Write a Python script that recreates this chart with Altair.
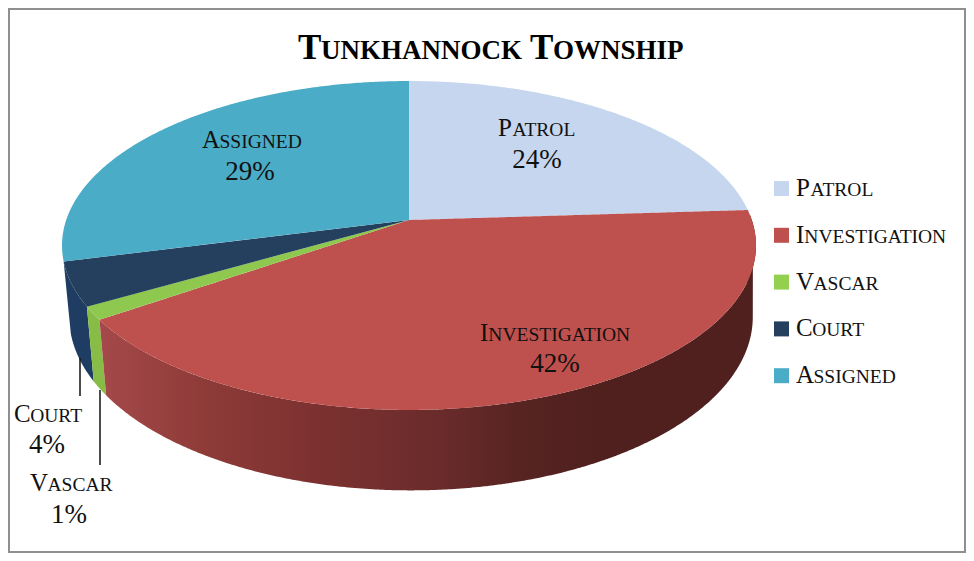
import math
import altair as alt
import pandas as pd

# ---- data
categories = ["Patrol", "Investigation", "Vascar", "Court", "Assigned"]
shares = [24.0, 41.4, 1.3, 4.3, 29.0]
percent_labels = ["24%", "42%", "1%", "4%", "29%"]
top_colors = ["#C6D6EE", "#BE504D", "#8EC84E", "#25405F", "#4AACC6"]
legend_colors = ["#C6D6EE", "#BE504D", "#93D04F", "#25405F", "#4AACC6"]
wall_colors = {"Vascar": "#87BC47", "Court": "#1F3D62"}
small_caps = [("P", "ATROL"), ("I", "NVESTIGATION"), ("V", "ASCAR"), ("C", "OURT"), ("A", "SSIGNED")]
title_parts = [("T", "UNKHANNOCK"), ("T", "OWNSHIP")]

# ---- pie geometry in page pixels (perspective tilt of the disc)
CX, CY, R, A, C = 409.0, 220.0, 342.8, 160.5, 0.155
RIM_OFF, RIM_X, RIM_D, RIM_K = 2.0, 0.985, 70.0, 1.055
W, H = 958, 545
CAP, LOW = 25, 19.5
CAP_W = {"P": 14.5, "I": 8.3, "V": 17.5, "C": 16.2, "A": 17.5}


def top(t):
    a = math.radians(t)
    u, v = math.sin(a), math.cos(a)
    d = 1 + C * v
    return CX + R * u / d, CY - A * v / d


def rim(t):
    x, y = top(t)
    return CX + RIM_OFF + (x - CX) * RIM_X, CY + RIM_D + RIM_K * (y - CY)


def arc(fn, a, b):
    n = max(2, int(abs(b - a)) * 2 + 2)
    return [fn(a + (b - a) * i / n) for i in range(n + 1)]


def sweep(poly):
    rows = []
    for x in sorted({p[0] for p in poly}):
        ys = []
        for (x1, y1), (x2, y2) in zip(poly, poly[1:] + poly[:1]):
            if min(x1, x2) <= x <= max(x1, x2):
                if x1 == x2:
                    ys += [y1, y2]
                else:
                    ys.append(y1 + (y2 - y1) * (x - x1) / (x2 - x1))
        rows.append({"x": x, "y": min(ys), "y2": max(ys)})
    return pd.DataFrame(rows)


X = alt.X("x:Q", axis=None, scale=alt.Scale(domain=[8, 8 + W], nice=False, zero=False))
Y = alt.Y("y:Q", axis=None, scale=alt.Scale(domain=[8 + H, 8], nice=False, zero=False))


def area(poly, color):
    return alt.Chart(sweep(poly)).mark_area(color=color, clip=False, interpolate="linear").encode(
        x=X, y=Y, y2=alt.Y2("y2:Q"))


# cumulative angles
edges = [0.0]
for s in shares:
    edges.append(edges[-1] + s * 3.6)
span = dict(zip(categories, zip(edges, edges[1:])))

layers = []

# outer frame
frame = pd.DataFrame({"x": [9.0], "x2": [965.0], "y": [9.0], "y2": [552.0]})
layers.append(alt.Chart(frame).mark_rect(fill="white", stroke="#8F8F8F", strokeWidth=2).encode(
    x=X, x2="x2:Q", y=Y, y2="y2:Q"))

# side walls
red_wall = alt.LinearGradient(
    gradient="linear", x1=0, x2=1, y1=0, y2=0,
    stops=[
        alt.GradientStop(color="#A5494A", offset=0.0),
        alt.GradientStop(color="#8E3B38", offset=0.16),
        alt.GradientStop(color="#7C3130", offset=0.33),
        alt.GradientStop(color="#6C2C2C", offset=0.5),
        alt.GradientStop(color="#572422", offset=0.64),
        alt.GradientStop(color="#4F201E", offset=0.76),
        alt.GradientStop(color="#4F201E", offset=1.0),
    ])
for name, col in [("Court", wall_colors["Court"]), ("Vascar", wall_colors["Vascar"]), ("Investigation", red_wall)]:
    a, b = span[name]
    if name == "Investigation":
        a = 88.0
    poly = arc(top, a, b) + arc(rim, b, a)
    layers.append(area(poly, col))

# top surface
for name, col in zip(categories, top_colors):
    a, b = span[name]
    poly = [(CX, CY)] + arc(top, a, b)
    layers.append(area(poly, col))

# leader lines
leaders = pd.DataFrame({"x": [80.0, 100.0], "y": [358.0, 390.0], "y2": [396.0, 465.0]})
layers.append(alt.Chart(leaders).mark_rule(color="#111111", strokeWidth=1.5).encode(x=X, y=Y, y2="y2:Q"))

# legend swatches
swatch = pd.DataFrame({
    "x": [774.0] * 5, "x2": [789.0] * 5,
    "y": [181.0 + 46.8 * i for i in range(5)],
    "y2": [196.0 + 46.8 * i for i in range(5)],
    "c": legend_colors,
})
layers.append(alt.Chart(swatch).mark_rect().encode(
    x=X, x2="x2:Q", y=Y, y2="y2:Q", color=alt.Color("c:N", scale=None)))

# text
left_rows = []


def caps(i, left, base):
    cap, low = small_caps[i]
    left_rows.append({"t": cap, "x": left, "y": base, "s": CAP})
    left_rows.append({"t": low, "x": left + CAP_W[cap], "y": base, "s": LOW})


for i in range(5):
    caps(i, 796.0, 196.0 + 46.8 * i)
caps(0, 498.0, 136.0)
caps(4, 202.0, 148.0)
caps(1, 480.0, 341.0)
caps(3, 14.0, 422.0)
caps(2, 30.0, 491.0)

pct = pd.DataFrame({
    "t": percent_labels,
    "x": [537.0, 555.0, 69.0, 47.0, 250.0],
    "y": [168.0, 372.0, 523.0, 453.0, 180.0],
})

FONT = "Liberation Serif"
layers.append(alt.Chart(pd.DataFrame(left_rows)).mark_text(
    align="left", baseline="alphabetic", font=FONT, color="#111111").encode(
    x=X, y=Y, text="t:N", size=alt.Size("s:Q", scale=None, legend=None)))
layers.append(alt.Chart(pct).mark_text(
    align="center", baseline="alphabetic", font=FONT, fontSize=27, color="#111111").encode(
    x=X, y=Y, text="t:N"))

title_rows = pd.DataFrame([
    {"t": title_parts[0][0], "x": 298.0, "s": 35},
    {"t": title_parts[0][1], "x": 321.0, "s": 27},
    {"t": title_parts[1][0], "x": 530.0, "s": 35},
    {"t": title_parts[1][1], "x": 553.0, "s": 27},
]).assign(y=59.0)
layers.append(alt.Chart(title_rows).mark_text(
    align="left", baseline="alphabetic", font=FONT, fontWeight="bold", color="#000000").encode(
    x=X, y=Y, text="t:N", size=alt.Size("s:Q", scale=None, legend=None)))

chart = alt.layer(*layers).properties(
    width=W, height=H, padding=0, background="white",
    autosize=alt.AutoSizeParams(type="none"),
).configure_view(stroke=None)

chart.save("out.html", embed_options={"renderer": "svg", "actions": False})
